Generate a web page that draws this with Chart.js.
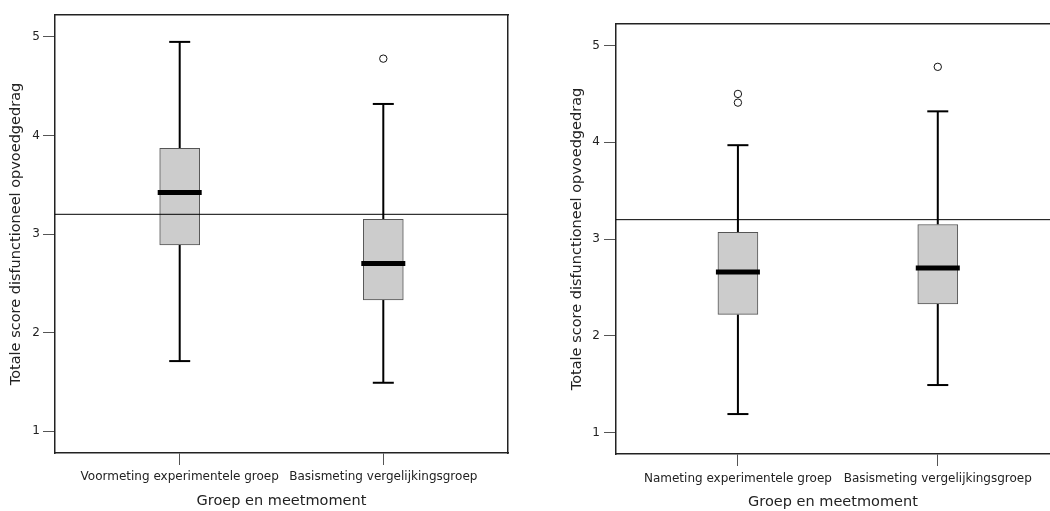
<!DOCTYPE html>
<html>
<head>
<meta charset="utf-8">
<script src="https://cdn.jsdelivr.net/npm/chart.js@4.4.1/dist/chart.umd.min.js"></script>
<style>
  html, body { margin: 0; padding: 0; background: #ffffff; }
  #wrap { position: relative; width: 1050px; height: 511px; overflow: hidden; background: #ffffff; }
  canvas { position: absolute; top: 0; }
</style>
</head>
<body>
<div id="wrap">
  <canvas id="leftChart" width="525" height="511" style="left:0px"></canvas>
  <canvas id="rightChart" width="525" height="511" style="left:525px"></canvas>
</div>
<script>
// ---------- Data ----------
const yAxisTitle = "Totale score disfunctioneel opvoedgedrag";
const xAxisTitle = "Groep en meetmoment";
const yTickValues = [1, 2, 3, 4, 5];
const referenceValue = 3.2;

// Left panel
const leftCategories = ["Voormeting experimentele groep", "Basismeting vergelijkingsgroep"];
const leftMin      = [1.71, 1.49];
const leftQ1       = [2.89, 2.33];
const leftMedian   = [3.42, 2.70];
const leftQ3       = [3.87, 3.15];
const leftMax      = [4.95, 4.32];
const leftOutliers = [[], [4.78]];

// Right panel
const rightCategories = ["Nameting experimentele groep", "Basismeting vergelijkingsgroep"];
const rightMin      = [1.19, 1.49];
const rightQ1       = [2.22, 2.33];
const rightMedian   = [2.66, 2.70];
const rightQ3       = [3.07, 3.15];
const rightMax      = [3.97, 4.32];
const rightOutliers = [[4.50, 4.41], [4.78]];

// ---------- Chart builder ----------
const FONT = "'DejaVu Sans', 'Noto Sans', sans-serif";
Chart.defaults.font.family = FONT;
Chart.defaults.color = '#222';

function buildBoxChart(canvasId, d, layout) {
  const cats = d.categories;
  const medianData = cats.map((c, i) => ({ x: i, y: d.median[i] }));
  const boxData = cats.map((c, i) => ({ x: i, y: [d.q1[i], d.q3[i]] }));
  const whiskerData = [];
  const capData = [];
  cats.forEach((c, i) => {
    whiskerData.push({ x: i, y: d.q3[i] }, { x: i, y: d.max[i] }, { x: i, y: null });
    whiskerData.push({ x: i, y: d.q1[i] }, { x: i, y: d.min[i] }, { x: i, y: null });
    capData.push({ x: i, y: d.max[i] }, { x: i, y: d.min[i] });
  });
  const outlierData = [];
  cats.forEach((c, i) => d.outliers[i].forEach(v => outlierData.push({ x: i, y: v })));
  const refData = [{ x: layout.xMin, y: referenceValue }, { x: layout.xMax, y: referenceValue }];

  const frameBorder = { display: true, color: '#222', width: 1.5 };

  const scales = {
    x: {
      type: 'linear', axis: 'x', position: 'bottom',
      min: layout.xMin, max: layout.xMax, offset: false,
      afterBuildTicks: s => { s.ticks = cats.map((c, i) => ({ value: i })); },
      afterFit: s => { s.height = layout.xHeight; },
      ticks: {
        callback: v => cats[v], font: { size: 12 }, color: '#222',
        padding: layout.xTickPad, maxRotation: 0, autoSkip: false
      },
      grid: { display: true, drawOnChartArea: false, drawTicks: true, tickLength: 12, color: '#555', lineWidth: 1, offset: false },
      border: frameBorder,
      title: { display: true, text: xAxisTitle, font: { size: 14.5 }, color: '#222', padding: { top: 0, bottom: layout.xTitlePad } }
    },
    y: {
      type: 'linear', axis: 'y', position: 'left',
      min: layout.yMin, max: layout.yMax,
      afterBuildTicks: s => { s.ticks = yTickValues.map(v => ({ value: v })); },
      afterFit: s => { s.width = layout.yWidth; },
      ticks: { callback: v => String(v), font: { size: 12 }, color: '#222', padding: layout.yTickPad },
      grid: { display: true, drawOnChartArea: false, drawTicks: true, tickLength: 12, color: '#555', lineWidth: 1 },
      border: frameBorder,
      title: { display: true, text: yAxisTitle, font: { size: 14.5 }, color: '#222', padding: { top: layout.yTitlePad, bottom: 0 } }
    },
    x2: {
      type: 'linear', axis: 'x', position: 'top', display: true,
      min: layout.xMin, max: layout.xMax,
      afterFit: s => { s.height = 0; },
      ticks: { display: false },
      grid: { display: false, drawTicks: false },
      border: frameBorder
    }
  };
  if (layout.rightBorder) {
    scales.y2 = {
      type: 'linear', axis: 'y', position: 'right', display: true,
      min: layout.yMin, max: layout.yMax,
      afterFit: s => { s.width = 0; },
      ticks: { display: false },
      grid: { display: false, drawTicks: false },
      border: frameBorder
    };
  }

  return new Chart(document.getElementById(canvasId), {
    type: 'bar',
    data: {
      datasets: [
        { type: 'scatter', label: 'median', data: medianData, xAxisID: 'x', yAxisID: 'y',
          pointStyle: 'line', pointRadius: 22, pointHoverRadius: 22, borderWidth: 5, borderColor: '#000', order: 0 },
        { type: 'scatter', label: 'outliers', data: outlierData, xAxisID: 'x', yAxisID: 'y',
          pointStyle: 'circle', pointRadius: 3.7, borderWidth: 1, borderColor: '#111', backgroundColor: '#fff', order: 0 },
        { type: 'line', label: 'reference', data: refData, xAxisID: 'x', yAxisID: 'y',
          borderColor: '#000', borderWidth: 1, pointRadius: 0, fill: false, tension: 0, order: 1 },
        { type: 'bar', label: 'box', data: boxData, xAxisID: 'x', yAxisID: 'y',
          backgroundColor: '#cccccc', borderColor: '#555', borderWidth: 1, borderSkipped: false,
          barThickness: 40, order: 2 },
        { type: 'line', label: 'whiskers', data: whiskerData, xAxisID: 'x', yAxisID: 'y',
          borderColor: '#000', borderWidth: 2, pointRadius: 0, spanGaps: false, fill: false, tension: 0, order: 3 },
        { type: 'scatter', label: 'caps', data: capData, xAxisID: 'x', yAxisID: 'y',
          pointStyle: 'line', pointRadius: 10.5, pointHoverRadius: 10.5, borderWidth: 2, borderColor: '#000', order: 3 }
      ]
    },
    options: {
      responsive: false,
      devicePixelRatio: 1,
      animation: false,
      layout: { padding: layout.padding, autoPadding: false },
      plugins: { legend: { display: false }, tooltip: { enabled: false }, title: { display: false } },
      events: [],
      scales: scales
    }
  });
}

buildBoxChart('leftChart', {
  categories: leftCategories, min: leftMin, q1: leftQ1, median: leftMedian,
  q3: leftQ3, max: leftMax, outliers: leftOutliers
}, {
  xMin: -0.6125, xMax: 1.6125, yMin: 0.777, yMax: 5.223,
  xHeight: 58, yWidth: 55, xTickPad: 5, yTickPad: 3, xTitlePad: 1, yTitlePad: 8,
  padding: { top: 15, right: 17, left: 0, bottom: 0 }, rightBorder: true
});

buildBoxChart('rightChart', {
  categories: rightCategories, min: rightMin, q1: rightQ1, median: rightMedian,
  q3: rightQ3, max: rightMax, outliers: rightOutliers
}, {
  xMin: -0.61, xMax: 1.5615, yMin: 0.777, yMax: 5.223,
  xHeight: 57, yWidth: 91, xTickPad: 6, yTickPad: 4, xTitlePad: 0, yTitlePad: 44,
  padding: { top: 24, right: 0, left: 0, bottom: 0 }, rightBorder: false
});
</script>
</body>
</html>
